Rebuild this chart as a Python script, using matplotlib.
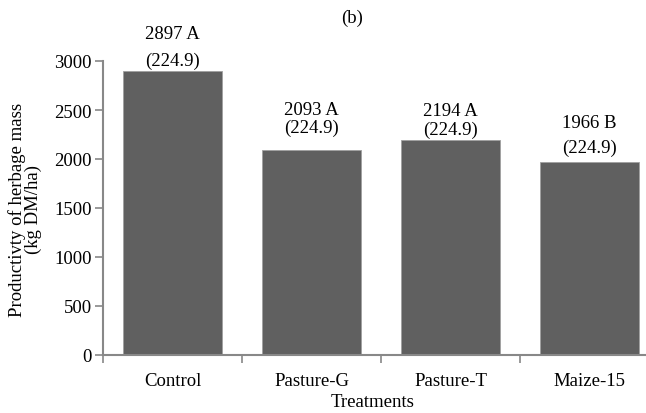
import matplotlib
matplotlib.use("Agg")
import matplotlib.pyplot as plt
import numpy as np

categories = ["Control", "Pasture-G", "Pasture-T", "Maize-15"]
values = [2897, 2093, 2194, 1966]
letters = ["A", "A", "A", "B"]
se_labels = ["(224.9)", "(224.9)", "(224.9)", "(224.9)"]
yticks = [0, 500, 1000, 1500, 2000, 2500, 3000]

# label offsets above bar top (points): (second line, first line)
offsets = [(8, 27), (16.5, 29), (8, 21.5), (11, 29)]

plt.rcParams['font.family'] = ['Liberation Serif', 'DejaVu Serif']
FS = 13.5

fig = plt.figure(figsize=(6.46, 4.14), dpi=100)
ax = fig.add_axes([103/646, 58/414, 556/646, 294/414])
x = np.arange(len(categories))
ax.bar(x, values, width=0.71, color="#606060", edgecolor="#a0a0a0", linewidth=0.6, zorder=2)
ax.set_xlim(-0.5, len(categories) - 0.5)
ax.set_ylim(0, 3000)
ax.set_yticks(yticks)
ax.set_yticklabels([str(v) for v in yticks], fontsize=FS)
ax.set_xticks(x)
ax.set_xticklabels(categories, fontsize=FS)
ax.tick_params(axis='x', length=0, pad=12)
ax.set_xticks(np.arange(-0.5, len(categories), 1.0), minor=True)
ax.tick_params(axis='x', which='minor', length=6, width=1.2, color="#888888", direction='out')
ax.tick_params(axis='y', length=6, width=1.2, color="#888888", direction='out', pad=2)
for s in ['top', 'right']:
    ax.spines[s].set_visible(False)
for s in ['left', 'bottom']:
    ax.spines[s].set_color("#888888")
    ax.spines[s].set_linewidth(1.5)

for xi, v, l, se, (o2, o1) in zip(x, values, letters, se_labels, offsets):
    ax.annotate(se, (xi, v), xytext=(0, o2), textcoords='offset points',
                ha='center', va='center', fontsize=FS)
    ax.annotate(f"{v} {l}", (xi, v), xytext=(0, o1), textcoords='offset points',
                ha='center', va='center', fontsize=FS, annotation_clip=False)

fig.text(352/646, 1 - 18/414, "(b)", ha='center', va='center', fontsize=FS)
fig.text(25/646, 1 - 210/414, "Productivty of herbage mass\n(kg DM/ha)", rotation=90,
         ha='center', va='center', fontsize=FS, linespacing=0.9)
fig.text(373/646, 1 - 403/414, "Treatments", ha='center', va='center', fontsize=FS)

fig.savefig("out.png", dpi=100)
